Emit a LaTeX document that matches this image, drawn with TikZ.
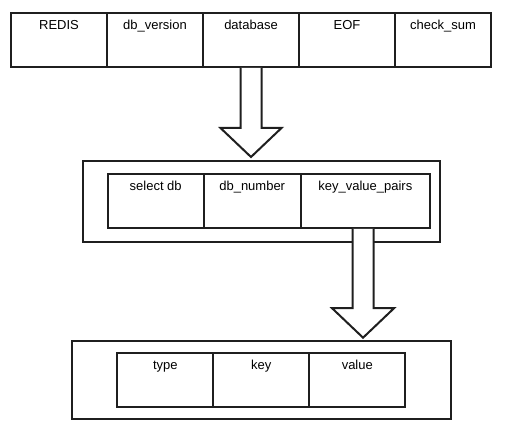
\documentclass[tikz,border=0pt]{standalone}
\usepackage{fontspec}
\setmainfont{Liberation Sans}
\usetikzlibrary{positioning,calc}

\begin{document}
\begin{tikzpicture}[x=1pt, y=-1pt,
  cell/.style={draw=black!88, line width=2pt, outer sep=0pt, minimum width=96pt,
    text height=10pt, text depth=31pt, inner ysep=6.4pt, font=\fontsize{13}{15}\selectfont},
  frame/.style={draw=black!88, line width=2pt, outer sep=0pt, anchor=north west},
  fat/.style={draw=black!88, line width=2pt, fill=white, line join=miter},
  node distance=0pt]
\useasboundingbox (0,0) rectangle (527,435);
% file layout
\node[cell, anchor=north west] (redis) at (11,13) {REDIS};
\node[cell, right=of redis] (dbver) {db\_version};
\node[cell, right=of dbver] (database) {database};
\node[cell, right=of database] (eof) {EOF};
\node[cell, right=of eof] (chk) {check\_sum};
% database section
\node[frame, minimum width=357.3pt, minimum height=81pt] (dbbox) at (82.7,161) {};
\node[cell, anchor=north west] (seldb) at (107.7,174) {select db};
\node[cell, right=of seldb, minimum width=97pt] (dbnum) {db\_number};
\node[cell, right=of dbnum, minimum width=129.3pt] (kvp) {key\_value\_pairs};
% key value pair
\node[frame, minimum width=378.7pt, minimum height=78.6pt] (kvbox) at (72,340.7) {};
\node[cell, anchor=north west] (type) at (117.3,352.7) {type};
\node[cell, right=of type] (key) {key};
\node[cell, right=of key] (value) {value};
% hollow arrows, shaft starts just under the cell line
\coordinate (tip1) at ($(database.south |- dbbox.north)+(0,-4)$);
\coordinate (top2) at ($(kvp.south)+(-2.3,0)$);
\coordinate (tip2) at ($(top2 |- kvbox.north)+(0,-3)$);
\draw[fat] let \p1=(database.south), \p2=(tip1) in
  (\x1-10.5pt,\y1-1pt) -- (\x1-10.5pt,\y2+29pt) -- (\x1-30.5pt,\y2+29pt) -- (\x2,\y2)
  -- (\x1+30.5pt,\y2+29pt) -- (\x1+10.5pt,\y2+29pt) -- (\x1+10.5pt,\y1-1pt);
\draw[fat] let \p1=(top2), \p2=(tip2) in
  (\x1-10.5pt,\y1-1pt) -- (\x1-10.5pt,\y2+29.5pt) -- (\x1-31pt,\y2+29.5pt) -- (\x2,\y2)
  -- (\x1+31pt,\y2+29.5pt) -- (\x1+10.5pt,\y2+29.5pt) -- (\x1+10.5pt,\y1-1pt);
\end{tikzpicture}
\end{document}
